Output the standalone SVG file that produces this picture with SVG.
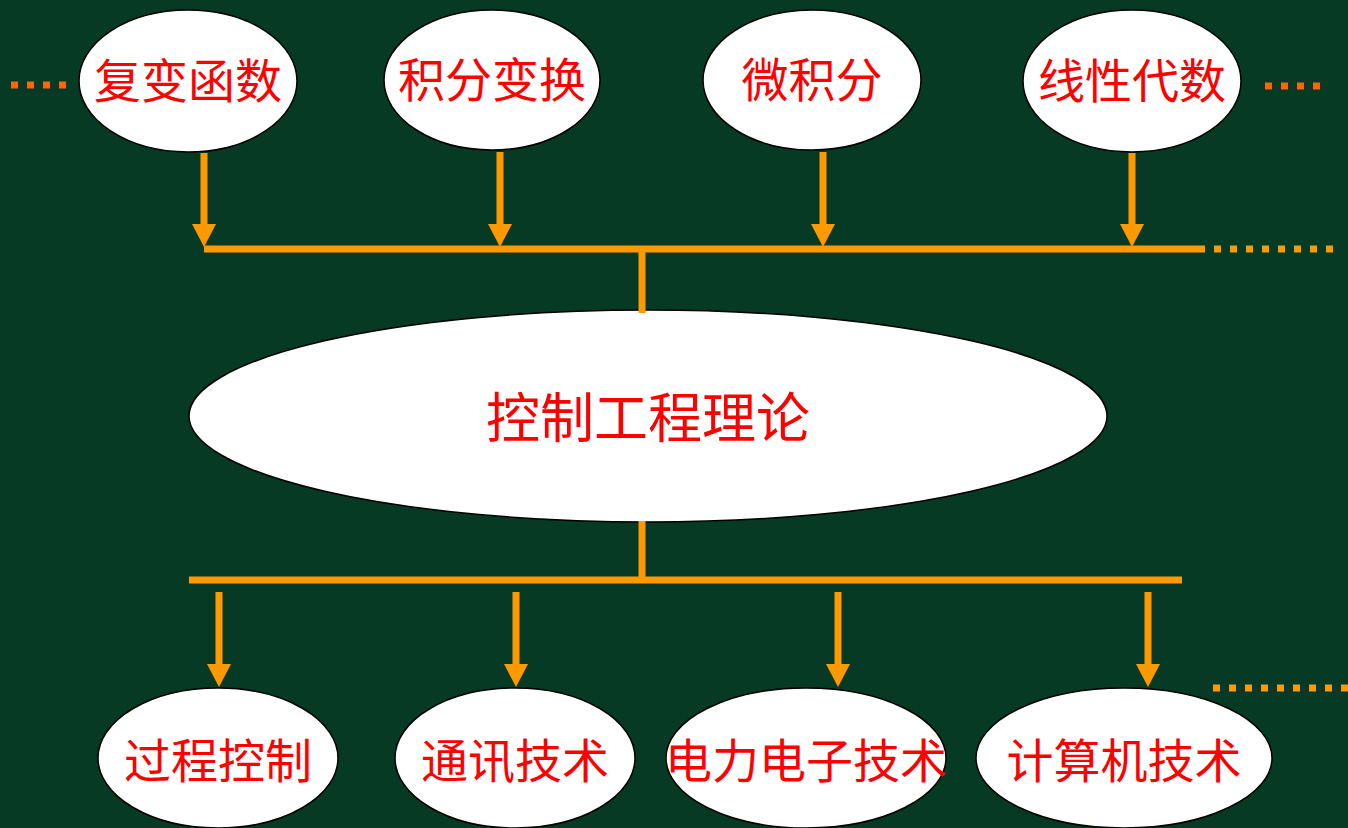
<svg xmlns="http://www.w3.org/2000/svg" width="1348" height="828" viewBox="0 0 1348 828">
<style>
.node ellipse{fill:#fff;stroke:#000;stroke-width:1.5}
.node text{fill:#f00;font-family:"Noto Sans CJK SC","Noto Sans CJK JP",sans-serif;font-size:47px;text-anchor:middle}
.conn line{stroke:#f90;stroke-width:7}
.arr{fill:#f90}
.conn line.dotA{stroke:#f60;stroke-width:7;stroke-dasharray:7 9}
.conn line.dotB{stroke:#f90;stroke-width:7;stroke-dasharray:7 9}
</style>
<defs>
<polygon id="ah" class="arr" points="-12,0 12,0 0,23"/>
</defs>
<rect width="1348" height="828" fill="#063a24"/>
<g id="n1" class="node"><ellipse cx="188" cy="81" rx="109" ry="71"/><text x="188" y="98">复变函数</text></g>
<g id="n2" class="node"><ellipse cx="492" cy="80" rx="108" ry="70"/><text x="492" y="97">积分变换</text></g>
<g id="n3" class="node"><ellipse cx="812" cy="80" rx="109" ry="70"/><text x="812" y="97">微积分</text></g>
<g id="n4" class="node"><ellipse cx="1132" cy="81" rx="109" ry="71"/><text x="1132" y="98">线性代数</text></g>
<g id="center" class="node"><ellipse cx="648" cy="416" rx="459" ry="106"/><text x="648" y="438" style="font-size:54px">控制工程理论</text></g>
<g id="b1" class="node"><ellipse cx="218" cy="758" rx="120" ry="70"/><text x="218" y="778">过程控制</text></g>
<g id="b2" class="node"><ellipse cx="515" cy="758" rx="120" ry="70"/><text x="515" y="778">通讯技术</text></g>
<g id="b3" class="node"><ellipse cx="806" cy="758" rx="140" ry="70"/><text x="806" y="778">电力电子技术</text></g>
<g id="b4" class="node"><ellipse cx="1124" cy="758" rx="148" ry="70"/><text x="1124" y="778">计算机技术</text></g>
<g id="connectors" class="conn">
<line x1="204" y1="153" x2="204" y2="228"/>
<line x1="500" y1="152" x2="500" y2="228"/>
<line x1="823" y1="152" x2="823" y2="228"/>
<line x1="1132" y1="153" x2="1132" y2="228"/>
<use href="#ah" x="204" y="224"/>
<use href="#ah" x="500" y="224"/>
<use href="#ah" x="823" y="224"/>
<use href="#ah" x="1132" y="224"/>
<line x1="204" y1="249" x2="1198" y2="249"/>
<line x1="642" y1="249" x2="642" y2="313"/>
<line x1="642" y1="521" x2="642" y2="583"/>
<line x1="189" y1="580" x2="1182" y2="580"/>
<line x1="219" y1="592" x2="219" y2="667"/>
<line x1="516" y1="592" x2="516" y2="667"/>
<line x1="838" y1="592" x2="838" y2="667"/>
<line x1="1148" y1="592" x2="1148" y2="667"/>
<use href="#ah" x="219" y="664"/>
<use href="#ah" x="516" y="664"/>
<use href="#ah" x="838" y="664"/>
<use href="#ah" x="1148" y="664"/>
<line class="dotA" x1="11" y1="85" x2="70" y2="85"/>
<line class="dotA" x1="1265" y1="86" x2="1325" y2="86"/>
<line class="dotB" x1="1198" y1="249" x2="1340" y2="249"/>
<line class="dotB" x1="1213" y1="688" x2="1348" y2="688"/>
</g>
</svg>
